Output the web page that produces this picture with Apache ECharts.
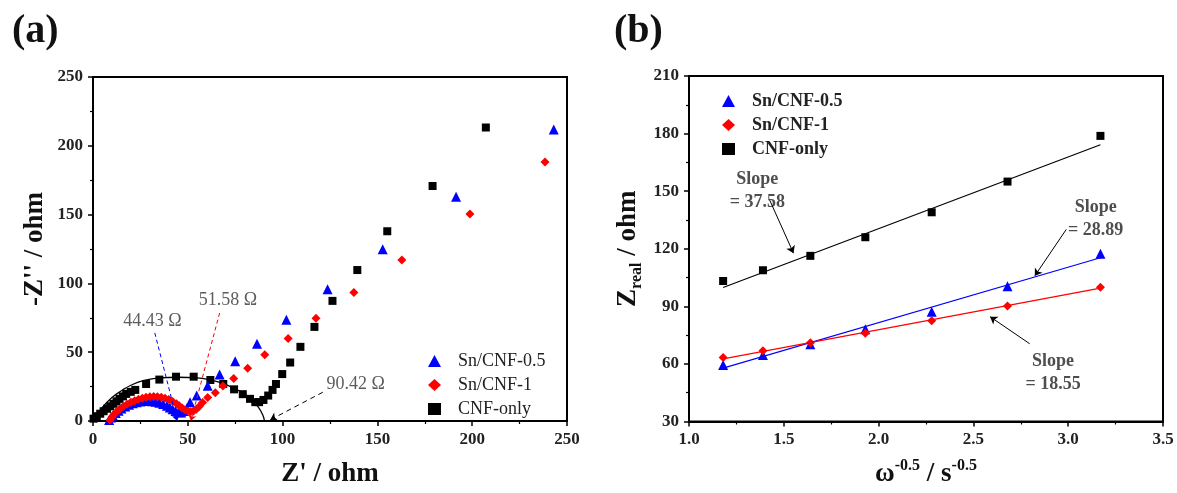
<!DOCTYPE html>
<html>
<head>
<meta charset="utf-8">
<script src="https://cdn.jsdelivr.net/npm/echarts@6/dist/echarts.min.js"></script>
<style>
  html, body { margin: 0; padding: 0; background: #fff; }
  #chart { width: 1177px; height: 493px; }
</style>
</head>
<body>
<div id="chart"></div>
<script>
// ---- (a) Nyquist plot: [Z', -Z''] ----
var nyqSn05 = [
  [8.5, 0.8], [9.5, 2.5], [10.5, 4], [12, 5.8], [13.5, 7.5], [15, 9], [17, 10.5], [19, 11.8],
  [21, 12.9], [23, 13.7], [25, 14.2], [27, 14.5], [29, 14.6], [31, 14.4], [33, 14], [35, 13.3],
  [37, 12.3], [39, 11], [40.5, 9.8], [42, 8.5], [43.5, 7.2], [45, 6.3], [46.5, 6.2], [48, 7.3],
  [49.5, 9.3], [51.2, 13.7], [54.7, 18.5], [60.5, 25.7], [66.8, 33.8], [75, 43.5], [86.5, 56.2],
  [102, 73.6], [123.7, 95.8], [152.8, 124.8], [191.5, 162.9], [243, 211.8]
];
var nyqSn1 = [
  [9, 0.8], [10, 2.8], [11, 4.8], [12.5, 6.8], [14, 8.6], [16, 10.5], [18, 12.2], [20, 13.6],
  [22, 14.8], [24, 15.8], [26, 16.6], [28, 17.2], [30, 17.6], [32, 17.8], [34, 17.7], [36, 17.3],
  [38, 16.6], [40, 15.6], [42, 14.2], [44, 12.5], [45.5, 11], [47, 9.5], [48.5, 8.2], [50, 7.2],
  [51.5, 6.8], [53, 7.3], [54.5, 8.5], [56, 10.5], [57.8, 13.5], [60.5, 17], [64.5, 20.6],
  [68.5, 25.4], [74.2, 30.8], [81.6, 38.3], [90.6, 48.2], [102.9, 60], [117.6, 74.6],
  [137.6, 93.4], [162.9, 117], [198.8, 150.5], [238.4, 188.2]
];
var nyqCnf = [
  [0.3, 1.7], [2, 3.5], [3.8, 5.3], [5.6, 7.1], [7.4, 8.9], [9.1, 10.7], [10.8, 12.5], [12.4, 14.3],
  [14, 16.1], [15.8, 17.9], [17.5, 19.7], [19.9, 21.2], [22.3, 22.6], [28, 26.9], [35, 30.1],
  [43.8, 32.2], [53.1, 32.2], [61.9, 29.8], [68.7, 26.9], [74.4, 23], [79, 19.5], [82.8, 16.1],
  [85.6, 13.7], [87.6, 13.7], [89.9, 15.3], [92.4, 18.5], [94.7, 22.6], [96.5, 26.9],
  [99.8, 34.1], [104, 42.5], [109.4, 53.9], [116.8, 68.4], [126.3, 87.3], [139.4, 109.7],
  [155.2, 137.9], [179.1, 170.8], [207.2, 213.3]
];
// fitted arc through the CNF-only semicircle
var arcCnf = [
  [0, 0], [5, 10], [10, 17], [15, 22], [20, 26], [27, 29.5], [35, 31.3], [45, 31.8], [55, 31.3],
  [63, 29.5], [70, 26.5], [77, 22], [83, 16.5], [87, 10.5], [89.5, 4.5], [90.42, 0]
];
var intercepts = [44.43, 51.58, 90.42];

// ---- (b) Z_real vs omega^-0.5 ----
var omega = [1.18, 1.39, 1.64, 1.93, 2.28, 2.68, 3.17];
var zSn05 = [59.5, 64.6, 70.3, 78.1, 87.2, 100.4, 117.4];
var zSn1 = [63.3, 66.8, 71.0, 76.0, 82.5, 90.2, 100.0];
var zCnf = [103.2, 108.8, 116.3, 126.0, 139.0, 155.0, 178.8];
var fitSn05 = [[1.18, 57.8], [3.17, 115.3]];
var fitSn1 = [[1.18, 62.6], [3.17, 99.5]];
var fitCnf = [[1.18, 99.8], [3.17, 174.2]];
var slopes = ['28.89', '18.55', '37.58'];

var names = ['Sn/CNF-0.5', 'Sn/CNF-1', 'CNF-only'];
var colors = ['#0000ff', '#ff0000', '#000000'];

var FONT = 'Liberation Serif';

function pairs(xs, ys) {
  return xs.map(function (x, i) { return [x, ys[i]]; });
}

function axisBase(min, max, interval, name, gap, nameStyle) {
  return {
    type: 'value', min: min, max: max, interval: interval,
    name: name, nameLocation: 'middle', nameGap: gap,
    nameTextStyle: nameStyle,
    axisLine: { show: true, onZero: false, lineStyle: { color: '#000', width: 2 } },
    axisTick: { show: true, inside: false, length: 5, lineStyle: { color: '#000', width: 1.5 } },
    minorTick: { show: true, splitNumber: 2, length: 3, lineStyle: { color: '#000', width: 1.2 } },
    axisLabel: { color: '#222', fontFamily: FONT, fontWeight: 'bold', fontSize: 17, margin: 10 },
    splitLine: { show: false }
  };
}

var bigName = { fontFamily: FONT, fontWeight: 'bold', fontSize: 27, color: '#111' };

var legendItems = [
  { name: names[0], icon: 'triangle' },
  { name: names[1], icon: 'diamond' },
  { name: names[2], icon: 'rect' }
];

var chart = echarts.init(document.getElementById('chart'));

var option = {
  animation: false,
  backgroundColor: '#fff',
  graphic: [
    { type: 'text', left: 12, top: 12, style: { text: '(a)', font: 'bold 40px "Liberation Serif"', fill: '#111' } },
    { type: 'text', left: 614, top: 12, style: { text: '(b)', font: 'bold 40px "Liberation Serif"', fill: '#111' } }
  ],
  grid: [
    { left: 93, top: 77, width: 474, height: 347, show: true, borderColor: '#000', borderWidth: 2, backgroundColor: 'transparent' },
    { left: 689, top: 76, width: 474, height: 347, show: true, borderColor: '#000', borderWidth: 2, backgroundColor: 'transparent' }
  ],
  xAxis: [
    Object.assign(axisBase(0, 250, 50, "Z' / ohm", 40, bigName), { gridIndex: 0 }),
    Object.assign(axisBase(1.0, 3.5, 0.5, '{n|ω}{sup|-0.5}{n| / s}{sup|-0.5}', 36, {
      rich: {
        n: { fontFamily: FONT, fontWeight: 'bold', fontSize: 27, color: '#111', lineHeight: 34 },
        sup: { fontFamily: FONT, fontWeight: 'bold', fontSize: 16, color: '#111', lineHeight: 14, verticalAlign: 'top' }
      }
    }), {
      gridIndex: 1,
      axisLabel: { color: '#222', fontFamily: FONT, fontWeight: 'bold', fontSize: 17, margin: 10,
        formatter: function (v) { return v.toFixed(1); } }
    })
  ],
  yAxis: [
    Object.assign(axisBase(0, 250, 50, "-Z'' / ohm", 44, bigName), { gridIndex: 0 }),
    Object.assign(axisBase(30, 210, 30, '{z|Z}{s|real}{n| / ohm}', 44, {
      rich: {
        z: { fontFamily: FONT, fontWeight: 'bold', fontSize: 27, color: '#111', lineHeight: 34 },
        s: { fontFamily: FONT, fontWeight: 'bold', fontSize: 16, color: '#111', lineHeight: 14, verticalAlign: 'bottom' },
        n: { fontFamily: FONT, fontWeight: 'bold', fontSize: 27, color: '#111', lineHeight: 34 }
      }
    }), { gridIndex: 1 })
  ],
  legend: [
    {
      data: legendItems,
      orient: 'vertical', left: 423, top: 346, itemWidth: 13, itemHeight: 12, itemGap: 4,
      textStyle: { fontFamily: FONT, fontSize: 18, color: '#222', padding: [0, 0, 0, 12], lineHeight: 20 },
      selectedMode: false
    },
    {
      data: legendItems,
      orient: 'vertical', left: 717, top: 86, itemWidth: 13, itemHeight: 12, itemGap: 4,
      textStyle: { fontFamily: FONT, fontWeight: 'bold', fontSize: 18, color: '#222', padding: [0, 0, 0, 12], lineHeight: 20 },
      selectedMode: false
    }
  ],
  series: [
    // ---- (a) ----
    {
      name: 'CNF-only arc', type: 'line', xAxisIndex: 0, yAxisIndex: 0, data: arcCnf,
      smooth: true, symbol: 'none', lineStyle: { color: '#000', width: 1.3 }, z: 1
    },
    {
      name: names[2], type: 'scatter', xAxisIndex: 0, yAxisIndex: 0, data: nyqCnf,
      symbol: 'rect', symbolSize: 8, itemStyle: { color: colors[2], opacity: 1 },
      markLine: {
        silent: true, symbol: ['none', 'arrow'], symbolSize: 7, label: { show: false },
        lineStyle: { color: '#000', type: [5, 4], width: 1 },
        data: [[{ coord: [121.2, 20.9] }, { coord: [intercepts[2] + 3, 0.8] }]]
      }
    },
    {
      name: names[0], type: 'scatter', xAxisIndex: 0, yAxisIndex: 0, data: nyqSn05,
      symbol: 'triangle', symbolSize: 10, itemStyle: { color: colors[0], opacity: 1 },
      markLine: {
        silent: true, symbol: ['none', 'arrow'], symbolSize: 6, label: { show: false },
        lineStyle: { color: colors[0], type: [4, 3], width: 1 },
        data: [[{ coord: [32.6, 64] }, { coord: [intercepts[0], 0] }]]
      }
    },
    {
      name: names[1], type: 'scatter', xAxisIndex: 0, yAxisIndex: 0, data: nyqSn1,
      symbol: 'diamond', symbolSize: 9, itemStyle: { color: colors[1], opacity: 1 },
      markLine: {
        silent: true, symbol: ['none', 'arrow'], symbolSize: 6, label: { show: false },
        lineStyle: { color: colors[1], type: [4, 3], width: 1 },
        data: [[{ coord: [66.8, 78.5] }, { coord: [intercepts[1], 0] }]]
      }
    },
    {
      name: 'labels-a', type: 'scatter', xAxisIndex: 0, yAxisIndex: 0, symbolSize: 0, silent: true,
      data: [
        { value: [31.4, 72.8], label: { formatter: intercepts[0] + ' Ω' } },
        { value: [71.2, 87.8], label: { formatter: intercepts[1] + ' Ω' } },
        { value: [138.6, 26.6], label: { formatter: intercepts[2] + ' Ω' } }
      ],
      label: { show: true, position: 'inside', fontFamily: FONT, fontSize: 18, color: '#333' }
    },
    // ---- (b) ----
    {
      name: 'fit CNF', type: 'line', xAxisIndex: 1, yAxisIndex: 1, data: fitCnf,
      symbol: 'none', lineStyle: { color: '#000', width: 1.2 },
      markLine: {
        silent: true, symbol: ['none', 'arrow'], symbolSize: 7, label: { show: false },
        lineStyle: { color: '#000', type: 'solid', width: 1 },
        data: [
          [{ coord: [1.424, 145.7] }, { coord: [1.551, 117.7] }],
          [{ coord: [2.99, 130.1] }, { coord: [2.824, 105.9] }],
          [{ coord: [2.797, 70.5] }, { coord: [2.588, 84.6] }]
        ]
      }
    },
    {
      name: 'fit Sn05', type: 'line', xAxisIndex: 1, yAxisIndex: 1, data: fitSn05,
      symbol: 'none', lineStyle: { color: colors[0], width: 1.2 }
    },
    {
      name: 'fit Sn1', type: 'line', xAxisIndex: 1, yAxisIndex: 1, data: fitSn1,
      symbol: 'none', lineStyle: { color: colors[1], width: 1.2 }
    },
    {
      name: names[2], type: 'scatter', xAxisIndex: 1, yAxisIndex: 1, data: pairs(omega, zCnf),
      symbol: 'rect', symbolSize: 8, itemStyle: { color: colors[2], opacity: 1 }
    },
    {
      name: names[0], type: 'scatter', xAxisIndex: 1, yAxisIndex: 1, data: pairs(omega, zSn05),
      symbol: 'triangle', symbolSize: 10, itemStyle: { color: colors[0], opacity: 1 }
    },
    {
      name: names[1], type: 'scatter', xAxisIndex: 1, yAxisIndex: 1, data: pairs(omega, zSn1),
      symbol: 'diamond', symbolSize: 9, itemStyle: { color: colors[1], opacity: 1 }
    },
    {
      name: 'labels-b', type: 'scatter', xAxisIndex: 1, yAxisIndex: 1, symbolSize: 0, silent: true,
      data: [
        { value: [1.36, 150.2], label: { formatter: 'Slope\n= ' + slopes[2] } },
        { value: [3.145, 135.6], label: { formatter: 'Slope\n= ' + slopes[0] } },
        { value: [2.92, 55.4], label: { formatter: 'Slope\n= ' + slopes[1] } }
      ],
      label: { show: true, position: 'inside', align: 'center', lineHeight: 23,
        fontFamily: FONT, fontWeight: 'bold', fontSize: 18, color: '#222' }
    }
  ]
};

chart.setOption(option);
</script>
</body>
</html>
